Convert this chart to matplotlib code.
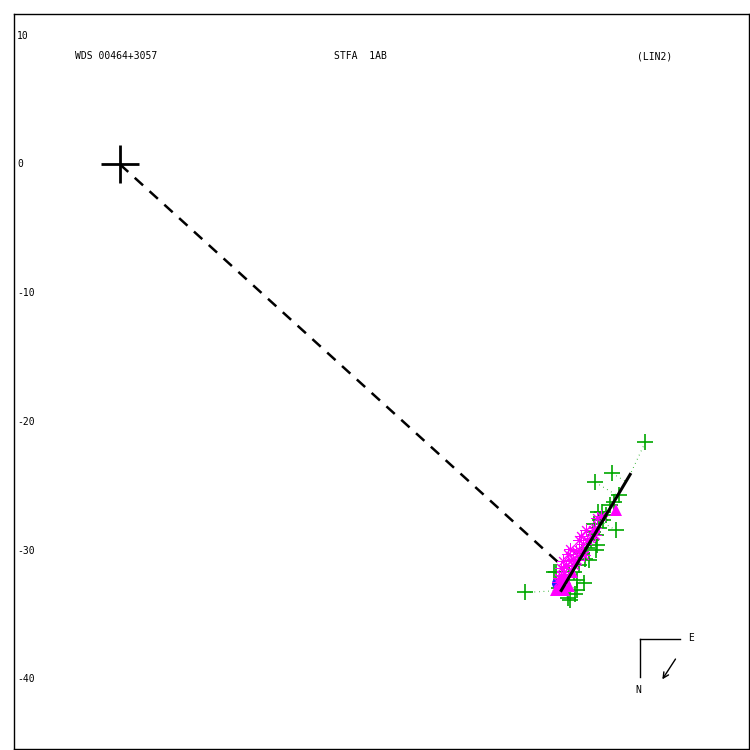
import numpy as np
import matplotlib
matplotlib.use("Agg")
import matplotlib.pyplot as plt

# relative positions (arcsec), x = east-ish offset, y = north-ish offset
micro_x = [40.87, 38.31, 36.99, 38.62, 31.55, 34.89, 36.13, 35.59, 38.85, 38.46,
           37.61, 37.30, 37.06, 36.67, 36.36, 35.98, 37.14, 35.74, 35.35, 33.80,
           34.19, 37.53, 37.84, 36.52, 34.97, 35.59, 36.91, 38.15, 36.21, 36.83,
           37.06, 33.96, 35.43, 35.04, 37.16, 37.38]
micro_y = [-21.60, -24.01, -24.71, -28.44, -33.26, -33.72, -32.56, -33.10, -25.72, -26.26,
           -27.66, -28.28, -28.83, -29.22, -29.84, -30.23, -29.60, -31.16, -31.70, -31.70,
           -32.94, -27.04, -27.27, -30.77, -31.93, -32.32, -27.97, -26.50, -30.62, -28.59,
           -29.98, -31.70, -33.41, -33.88, -26.97, -27.66]

speckle_x = [34.19, 34.58, 34.50, 35.12, 35.05, 35.74, 35.70, 36.36, 36.30, 36.99,
             37.10, 37.45, 35.35, 34.70, 35.98, 36.60, 34.35, 35.59, 36.13, 34.11,
             36.83, 35.28, 34.34, 35.90, 36.00, 34.90, 37.00, 35.45]
speckle_y = [-32.17, -31.70, -30.85, -30.77, -29.90, -29.99, -29.20, -29.22, -28.40, -28.28,
             -27.50, -27.35, -31.16, -31.20, -30.15, -29.00, -31.93, -30.77, -30.38, -32.48,
             -28.44, -30.62, -31.39, -28.90, -29.50, -30.30, -28.80, -30.00]

tri_x = [38.62, 34.19, 34.42, 34.65, 33.96, 34.97, 34.58, 35.20]
tri_y = [-26.88, -32.94, -32.48, -32.17, -33.10, -32.72, -33.10, -31.70]

circ_x = [34.04]
circ_y = [-32.56]

fit_x = [34.34, 39.70]
fit_y = [-33.10, -24.09]

node_x = [0, 34.19]
node_y = [0, -31.00]

yticks = [10, 0, -10, -20, -30, -40]

fig = plt.figure(figsize=(7.5, 7.5), dpi=100)
ax = fig.add_axes([0.0187, 0.002, 0.98, 0.979])
ax.set_xlim(-8.24, 48.95)
ax.set_ylim(-45.38, 11.66)
ax.set_xticks([])
ax.set_yticks([])
for s in ax.spines.values():
    s.set_linewidth(1.0)

font = dict(family="DejaVu Sans Mono", fontsize=7.0, color="black")

for v in yticks:
    ax.text(0.004, v, str(v), transform=ax.get_yaxis_transform(),
            ha="left", va="center", **font)

ax.text(0.083, 0.943, "WDS 00464+3057", transform=ax.transAxes, ha="left", va="center", **font)
ax.text(0.436, 0.943, "STFA  1AB", transform=ax.transAxes, ha="left", va="center", **font)
ax.text(0.848, 0.943, "(LIN2)", transform=ax.transAxes, ha="left", va="center", **font)

# O-C lines from each observation to the fitted line
p0 = np.array([fit_x[0], fit_y[0]])
d = np.array([fit_x[1] - fit_x[0], fit_y[1] - fit_y[0]])
L = np.dot(d, d)
for x, y in zip(micro_x, micro_y):
    t = np.clip(np.dot(np.array([x, y]) - p0, d) / L, 0, 1)
    f = p0 + t * d
    ax.plot([x, f[0]], [y, f[1]], color="#00a000", lw=0.8,
            linestyle=(0, (0.6, 3.5)), zorder=2)
for x, y in zip(speckle_x + tri_x, speckle_y + tri_y):
    t = np.clip(np.dot(np.array([x, y]) - p0, d) / L, 0, 1)
    f = p0 + t * d
    ax.plot([x, f[0]], [y, f[1]], color="#ff00ff", lw=0.8,
            linestyle=(0, (0.6, 3.5)), zorder=2)

ax.plot(node_x, node_y, color="black", lw=1.8, linestyle=(0, (4.5, 3.5)), zorder=3)

ax.plot(micro_x, micro_y, linestyle="none", marker="+", ms=11, mew=1.2,
        color="#00a800", zorder=4)
ax.plot(speckle_x, speckle_y, linestyle="none", marker=(8, 2, 0), ms=9, mew=0.7,
        color="#ff00ff", zorder=5)
ax.plot(tri_x, tri_y, linestyle="none", marker="^", ms=9, color="#ff00ff",
        markeredgewidth=0, zorder=5)
ax.plot(circ_x, circ_y, linestyle="none", marker="o", ms=8, color="#2020ff",
        markeredgewidth=0, zorder=4)

ax.plot(fit_x, fit_y, color="black", lw=2.2, zorder=6)

# primary star
ax.plot([0], [0], marker="+", ms=27, mew=2, color="black", zorder=7)

# orientation key
ax.plot([0.852, 0.906], [0.1485, 0.1485], color="black", lw=1, transform=ax.transAxes)
ax.plot([0.852, 0.852], [0.1485, 0.098], color="black", lw=1, transform=ax.transAxes)
ax.text(0.917, 0.150, "E", transform=ax.transAxes, ha="left", va="center", **font)
ax.text(0.849, 0.079, "N", transform=ax.transAxes, ha="center", va="center", **font)
ax.annotate("", xy=(0.880, 0.091), xytext=(0.902, 0.125), xycoords="axes fraction",
            arrowprops=dict(arrowstyle="->", lw=1, color="black"))

fig.savefig("out.png", dpi=100)
